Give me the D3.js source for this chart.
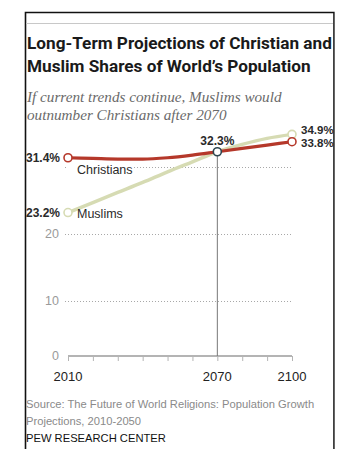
<!DOCTYPE html>
<html><head><meta charset="utf-8">
<script src="https://cdn.jsdelivr.net/npm/d3@7"></script>
<style>
html,body{margin:0;padding:0;background:#fff;}
svg{display:block;}
</style></head>
<body>
<svg id="chart" width="363" height="449"></svg>
<script>
const years = [2010, 2020, 2030, 2040, 2050, 2060, 2070, 2080, 2090, 2100];
const christians = [31.4, 31.3, 31.2, 31.2, 31.4, 31.8, 32.3, 32.8, 33.3, 33.8];
const muslims = [23.2, 24.7, 26.2, 27.7, 29.3, 30.8, 32.3, 33.4, 34.3, 34.9];
const labeledYears = [2010, 2070, 2100];
const yTicks = [0, 10, 20];
const gridValues = [10, 20, 30];
const titleLines = ["Long-Term Projections of Christian and", "Muslim Shares of World\u2019s Population"];
const subtitleLines = ["If current trends continue, Muslims would", "outnumber Christians after 2070"];
const sourceLines = ["Source: The Future of World Religions: Population Growth", "Projections, 2010-2050"];
const credit = "PEW RESEARCH CENTER";
const seriesNames = ["Christians", "Muslims"];

const svg = d3.select("#chart");
const red = "#b5382a", green = "#d6dbb3", ink = "#2a2a2a";
const sans = "'Liberation Sans', Arial, sans-serif";

// frame
svg.append("path").attr("d", "M25.5,460 V12.5 H334 V460")
  .attr("fill", "none").attr("stroke", "#111").attr("stroke-width", 1.6);
svg.append("line").attr("x1", 26).attr("x2", 333).attr("y1", 23.5).attr("y2", 23.5)
  .attr("stroke", "#c8c8c8").attr("stroke-width", 1);

// title
const title = svg.append("text").attr("font-family", "Roboto, 'Liberation Sans', sans-serif")
  .attr("font-weight", 700).attr("font-size", 17.2).attr("fill", "#1a1a1a");
titleLines.forEach((t, i) => title.append("tspan").attr("x", 27).attr("y", 49 + i * 22.5).text(t));

const sub = svg.append("text").attr("font-family", "'Liberation Serif', serif")
  .attr("font-style", "italic").attr("font-size", 15.2).attr("fill", "#6a6a6a");
subtitleLines.forEach((t, i) => sub.append("tspan").attr("x", 27).attr("y", 102 + i * 17.5).text(t));

// scales
const x = d3.scaleLinear().domain([2010, 2100]).range([68, 292]);
const y = d3.scaleLinear().domain([0, 10, 40]).range([356, 300.7, 100.3]);

// grid
svg.append("g").selectAll("line").data(gridValues).join("line")
  .attr("x1", 65).attr("x2", x(2100))
  .attr("y1", d => Math.round(y(d)) + 0.5).attr("y2", d => Math.round(y(d)) + 0.5)
  .attr("stroke", "#a8a8a8").attr("stroke-width", 1).attr("stroke-dasharray", "1,2");

// y tick labels
svg.append("g").selectAll("text").data(yTicks).join("text")
  .attr("x", 59).attr("y", d => y(d)).attr("dy", "0.35em").attr("text-anchor", "end")
  .attr("font-family", sans).attr("font-size", 12.5)
  .attr("fill", "#9a9a9a").text(d => d);

// x axis
const xAxis = d3.axisBottom(x).tickValues(years).tickSize(5).tickFormat("");
const gx = svg.append("g").attr("transform", `translate(0,${y(0)})`).call(xAxis);
gx.select(".domain").attr("stroke", "#b4b4b4").attr("stroke-width", 2).attr("d", `M${x(2010)},0H${x(2100)}`);
gx.selectAll(".tick line").attr("stroke", "#b4b4b4").attr("stroke-width", 1);
svg.append("g").selectAll("text").data(labeledYears).join("text")
  .attr("x", d => x(d)).attr("y", y(0) + 25).attr("text-anchor", "middle")
  .attr("font-family", sans).attr("font-size", 13)
  .attr("fill", "#222").text(d => d);

// vertical marker line at 2070
svg.append("line").attr("x1", x(2070)).attr("x2", x(2070))
  .attr("y1", y(32.3)).attr("y2", y(0)).attr("stroke", "#777").attr("stroke-width", 1);

// white background behind Christians label (hides gridline)
svg.append("rect").attr("x", x(2010)).attr("y", y(30) - 7).attr("width", 64).attr("height", 16).attr("fill", "#fff");

const line = d3.line().x((d, i) => x(years[i])).y(d => y(d)).curve(d3.curveMonotoneX);
svg.append("path").attr("d", line(muslims)).attr("fill", "none").attr("stroke", green).attr("stroke-width", 3.5);
svg.append("path").attr("d", line(christians)).attr("fill", "none").attr("stroke", red).attr("stroke-width", 3.2);

// markers
const mk = (yr, v, col) => svg.append("circle").attr("cx", x(yr)).attr("cy", y(v)).attr("r", 4)
  .attr("fill", "#fff").attr("stroke", col).attr("stroke-width", 1.6);
const iEnd = years.length - 1, iMid = years.indexOf(2070);
mk(years[0], christians[0], red);
mk(years[0], muslims[0], green);
mk(years[iEnd], muslims[iEnd], green);
mk(years[iEnd], christians[iEnd], red);
mk(years[iMid], christians[iMid], "#2d4650");

// value labels
const bold = (tx, ty, txt, anchor, fs) => svg.append("text").attr("x", tx).attr("y", ty).attr("dy", "0.35em")
  .attr("text-anchor", anchor).attr("font-family", sans)
  .attr("font-weight", 700).attr("font-size", fs || 12).attr("fill", ink).text(txt);
bold(x(2010) - 8, y(christians[0]), christians[0].toFixed(1) + "%", "end");
bold(x(2010) - 8, y(muslims[0]), muslims[0].toFixed(1) + "%", "end");
bold(x(2070), y(christians[iMid]) - 11, christians[iMid].toFixed(1) + "%", "middle");
bold(x(2100) + 9, y(muslims[iEnd]) - 4.5, muslims[iEnd].toFixed(1) + "%", "start", 11.5);
bold(x(2100) + 9, y(christians[iEnd]) + 1.5, christians[iEnd].toFixed(1) + "%", "start", 11.5);

const reg = (tx, ty, txt) => svg.append("text").attr("x", tx).attr("y", ty).attr("dy", "0.35em")
  .attr("font-family", sans).attr("font-size", 12.5)
  .attr("fill", ink).text(txt);
reg(x(2010) + 9, y(30) + 3, seriesNames[0]);
reg(x(2010) + 9, y(muslims[0]) + 1, seriesNames[1]);

// cover outside the frame on the right
svg.append("rect").attr("x", 334.8).attr("y", 0).attr("width", 40).attr("height", 449).attr("fill", "#fff");

// source
const src = svg.append("text").attr("font-family", sans)
  .attr("font-size", 11.2).attr("fill", "#8a8a8a");
sourceLines.forEach((t, i) => src.append("tspan").attr("x", 26).attr("y", 408 + i * 17).text(t));
svg.append("text").attr("x", 26).attr("y", 442).attr("font-family", sans)
  .attr("font-size", 11.2).attr("fill", "#111").text(credit);
</script>
</body></html>
